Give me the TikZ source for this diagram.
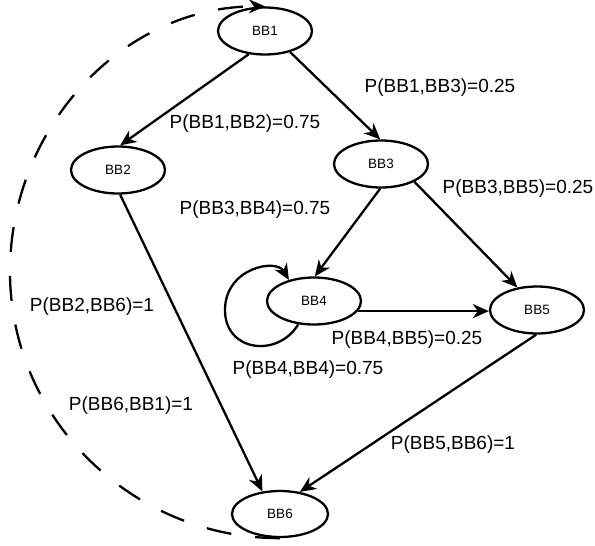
\documentclass[tikz,border=0pt]{standalone}
\usepackage{fontspec}
\setmainfont{Liberation Sans}
\usetikzlibrary{shapes.geometric,arrows.meta}
\begin{document}
\begin{tikzpicture}[x=1pt,y=-1pt,
  bb/.style={ellipse,draw,line width=2.3pt,minimum width=94pt,minimum height=47pt,inner sep=0pt,font=\fontsize{13.5}{15}\selectfont},
  lbl/.style={inner sep=0pt,text height=13.6pt,text depth=0pt,font=\fontsize{19}{22}\selectfont},
  edge/.style={line width=2.3pt,-{Stealth[length=16pt,width=14pt,inset=5pt]}},
  backedge/.style={edge,dash pattern=on 25pt off 24pt}]
\useasboundingbox (0,0) rectangle (595,546);
\node[bb] (BB1) at (265,31) {BB1};
\node[bb] (BB2) at (118,170) {BB2};
\node[bb] (BB3) at (381,164) {BB3};
\node[bb] (BB4) at (314,301) {BB4};
\node[bb] (BB5) at (537,310) {BB5};
\node[bb,minimum width=96pt,minimum height=46pt] (BB6) at (280,514) {BB6};
\coordinate (L) at (10,272);

\draw[edge] (BB1.235) -- (BB2.85);
\draw[edge] (BB1.320) -- (BB3.92);
\draw[edge] (BB2.275) -- (BB6.128);
\draw[edge] (BB3.268) -- (BB4.88);
\draw[edge] (BB3.332) -- (BB5.131);
\draw[edge] (BB4.347) -- (BB4.347 -| BB5.west);
\draw[edge] (BB5.268) -- (BB6.48);
\draw[edge] (BB4.236) .. controls (278,358) and (225,352) .. (225,310)
   .. controls (225,268) and (276,258) .. (BB4.140);
\draw[backedge] (BB6.south) .. controls +(-149,0) and +(0,146) .. (L)
   .. controls +(0,-146) and +(-141,0) .. (BB1.north);

\node[lbl] (l12) at (245,122) {P(BB1,BB2)=0.75};
\node[lbl] (l13) at (440,86) {P(BB1,BB3)=0.25};
\node[lbl] (l35) at (518,187) {P(BB3,BB5)=0.25};
\node[lbl] (l34) at (255,208) {P(BB3,BB4)=0.75};
\node[lbl] (l26) at (92,305) {P(BB2,BB6)=1};
\node[lbl] (l45) at (407,338) {P(BB4,BB5)=0.25};
\node[lbl] (l44) at (308,368) {P(BB4,BB4)=0.75};
\node[lbl] (l61) at (131,404) {P(BB6,BB1)=1};
\node[lbl] (l56) at (453,443) {P(BB5,BB6)=1};
\end{tikzpicture}
\end{document}
